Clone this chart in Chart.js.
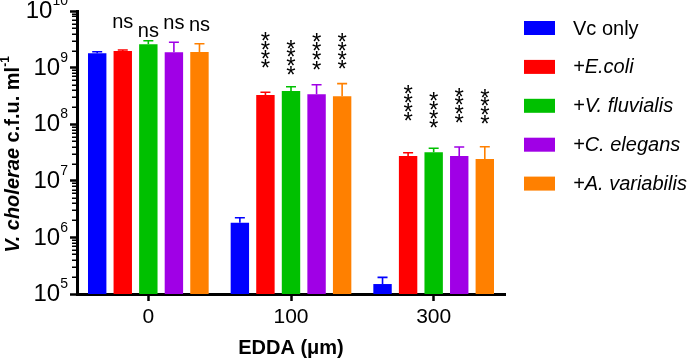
<!DOCTYPE html>
<html>
<head>
<meta charset="utf-8">
<script src="https://cdn.jsdelivr.net/npm/chart.js@4.4.1/dist/chart.umd.min.js"></script>
<style>
  html, body { margin: 0; padding: 0; background: #fff; }
  #wrap { width: 689px; height: 361px; position: relative; }
</style>
</head>
<body>
<div id="wrap"><canvas id="c" width="689" height="361"></canvas></div>
<script>
// ---------- data ----------
const categories = ['0', '100', '300'];
const seriesNames = ['Vc only', '+E.coli', '+V. fluvialis', '+C. elegans', '+A. variabilis'];
const seriesColors = ['#0000FF', '#FF0000', '#00C000', '#A000E6', '#FF8000'];

const vcOnly      = [1.79e9, 1.82e6, 1.50e5];
const eColi       = [1.96e9, 3.28e8, 2.74e7];
const vFluvialis  = [2.58e9, 3.86e8, 3.19e7];
const cElegans    = [1.86e9, 3.37e8, 2.74e7];
const aVariabilis = [1.89e9, 3.11e8, 2.43e7];

// upper end of each error bar
const vcOnlyUpper      = [1.91e9, 2.23e6, 1.97e5];
const eColiUpper       = [2.05e9, 3.66e8, 3.13e7];
const vFluvialisUpper  = [2.99e9, 4.60e8, 3.75e7];
const cElegansUpper    = [2.80e9, 4.99e8, 3.95e7];
const aVariabilisUpper = [2.64e9, 5.20e8, 4.00e7];

// significance label per category, per series
const sig0   = ['', 'ns', 'ns', 'ns', 'ns'];
const sig100 = ['', '****', '****', '****', '****'];
const sig300 = ['', '****', '****', '****', '****'];

const yTickExponents = [5, 6, 7, 8, 9, 10];
const xTitle = 'EDDA (\u03BCm)';

// ---------- build ----------
const seriesValues = [vcOnly, eColi, vFluvialis, cElegans, aVariabilis];
const seriesUpper = [vcOnlyUpper, eColiUpper, vFluvialisUpper, cElegansUpper, aVariabilisUpper];
const sigLabels = [sig0, sig100, sig300];
const FONT = '"Liberation Sans", Arial, Helvetica, sans-serif';

const datasets = seriesNames.map((n, i) => ({
  label: n,
  data: seriesValues[i],
  upper: seriesUpper[i],
  backgroundColor: seriesColors[i],
  borderWidth: 0,
  categoryPercentage: 0.896,
  barPercentage: 0.72
}));

// label layout (pixel centres of the marks above bars), category -> series
const sigCentres = [
  [null, [22.5], [32], [24], [25.5]],
  [null, [35, 62], [43, 69], [36, 64], [36, 63]],
  [null, [88, 115], [95, 122], [91, 117], [92, 118]]
];

const extras = {
  id: 'extras',
  afterDatasetsDraw(chart) {
    const ctx = chart.ctx;
    const y = chart.scales.y;
    ctx.save();
    // error bars
    chart.data.datasets.forEach((ds, di) => {
      const meta = chart.getDatasetMeta(di);
      meta.data.forEach((bar, ci) => {
        const top = y.getPixelForValue(ds.data[ci]);
        const up = y.getPixelForValue(ds.upper[ci]);
        ctx.strokeStyle = ds.backgroundColor;
        ctx.lineWidth = 1.6;
        ctx.beginPath();
        ctx.moveTo(bar.x, top);
        ctx.lineTo(bar.x, up);
        ctx.moveTo(bar.x - 5, up);
        ctx.lineTo(bar.x + 5, up);
        ctx.stroke();
      });
    });
    // significance labels
    ctx.fillStyle = '#000';
    ctx.textAlign = 'center';
    ctx.textBaseline = 'alphabetic';
    sigLabels.forEach((row, ci) => {
      row.forEach((txt, di) => {
        if (!txt) return;
        const bar = chart.getDatasetMeta(di).data[ci];
        const pos = sigCentres[ci][di];
        if (txt === 'ns') {
          ctx.font = '20px ' + FONT;
          ctx.fillText(txt, bar.x, pos[0] + 5);
        } else {
          ctx.font = '24px ' + FONT;
          const n = txt.length;
          for (let k = 0; k < n; k++) {
            const cy = pos[0] + (pos[1] - pos[0]) * k / (n - 1);
            ctx.fillText(txt[k], bar.x, cy + 13.7);
          }
        }
      });
    });
    ctx.restore();
  },
  afterDraw(chart) {
    const ctx = chart.ctx;
    const y = chart.scales.y;
    const area = chart.chartArea;
    ctx.save();
    // minor ticks
    ctx.strokeStyle = '#000';
    ctx.lineWidth = 1.5;
    ctx.beginPath();
    for (let e = yTickExponents[0]; e < yTickExponents[yTickExponents.length - 1]; e++) {
      for (let k = 2; k <= 9; k++) {
        const py = Math.round(y.getPixelForValue(k * Math.pow(10, e))) + 0.25;
        ctx.moveTo(area.left - 5, py);
        ctx.lineTo(area.left, py);
      }
    }
    ctx.stroke();
    // y tick labels with superscripts
    ctx.fillStyle = '#000';
    ctx.textBaseline = 'middle';
    yTickExponents.forEach(e => {
      const py = y.getPixelForValue(Math.pow(10, e));
      const supTxt = String(e);
      ctx.font = '14px ' + FONT;
      const supW = ctx.measureText(supTxt).width;
      const right = area.left - 9;
      ctx.textAlign = 'right';
      ctx.fillText(supTxt, right, py - 9.6);
      ctx.font = '24px ' + FONT;
      ctx.fillText('10', right - supW, py + 0.5);
    });
    // y axis title (rotated, mixed styles)
    const parts = [
      { t: 'V. cholerae', f: 'italic bold 20px ' + FONT, dy: 0 },
      { t: ' c.f.u. ml', f: 'bold 20px ' + FONT, dy: 0 },
      { t: '-1', f: 'bold 12px ' + FONT, dy: -7 }
    ];
    let total = 0;
    parts.forEach(p => { ctx.font = p.f; p.w = ctx.measureText(p.t).width; total += p.w; });
    ctx.translate(13, (area.top + area.bottom) / 2 + 2);
    ctx.rotate(-Math.PI / 2);
    ctx.textAlign = 'left';
    ctx.textBaseline = 'middle';
    let x0 = -total / 2;
    parts.forEach(p => {
      ctx.font = p.f;
      ctx.fillText(p.t, x0, p.dy);
      x0 += p.w;
    });
    ctx.setTransform(1, 0, 0, 1, 0, 0);
    // legend
    const lx = 524, ly0 = 28, step = 38.9;
    chart.data.datasets.forEach((ds, i) => {
      const cy = ly0 + i * step;
      ctx.fillStyle = ds.backgroundColor;
      ctx.fillRect(lx, cy - 7, 31, 14);
      ctx.fillStyle = '#000';
      ctx.font = (ds.label.startsWith('+') ? 'italic ' : '') + '20px ' + FONT;
      ctx.textAlign = 'left';
      ctx.textBaseline = 'middle';
      ctx.fillText(ds.label, 573, cy + 1);
    });
    ctx.restore();
  }
};

new Chart(document.getElementById('c'), {
  type: 'bar',
  data: { labels: categories, datasets },
  plugins: [extras],
  options: {
    responsive: false,
    animation: false,
    events: [],
    layout: { padding: { top: 11, right: 184, left: 0, bottom: 0 } },
    plugins: { legend: { display: false }, tooltip: { enabled: false }, title: { display: false } },
    scales: {
      x: {
        type: 'category',
        offset: true,
        afterFit: s => { s.height = 67; },
        grid: { display: true, drawOnChartArea: false, drawTicks: true, tickLength: 7, tickWidth: 2.5, tickColor: '#000', offset: false },
        border: { display: true, width: 3, color: '#000' },
        ticks: { color: '#000', font: { family: FONT, size: 21 }, padding: 4 },
        title: { display: true, text: xTitle, color: '#000', font: { family: FONT, size: 20, weight: 'bold' }, padding: { top: 0, bottom: 1 } }
      },
      y: {
        type: 'logarithmic',
        min: Math.pow(10, yTickExponents[0]),
        max: Math.pow(10, yTickExponents[yTickExponents.length - 1]),
        afterFit: s => { s.width = 77; },
        afterBuildTicks: s => { s.ticks = yTickExponents.map(e => ({ value: Math.pow(10, e), major: true })); },
        grid: { display: true, drawOnChartArea: false, drawTicks: true, tickLength: 7, tickWidth: 2.5, tickColor: '#000' },
        border: { display: true, width: 3, color: '#000' },
        ticks: { display: false, autoSkip: false }
      }
    }
  }
});
</script>
</body>
</html>
